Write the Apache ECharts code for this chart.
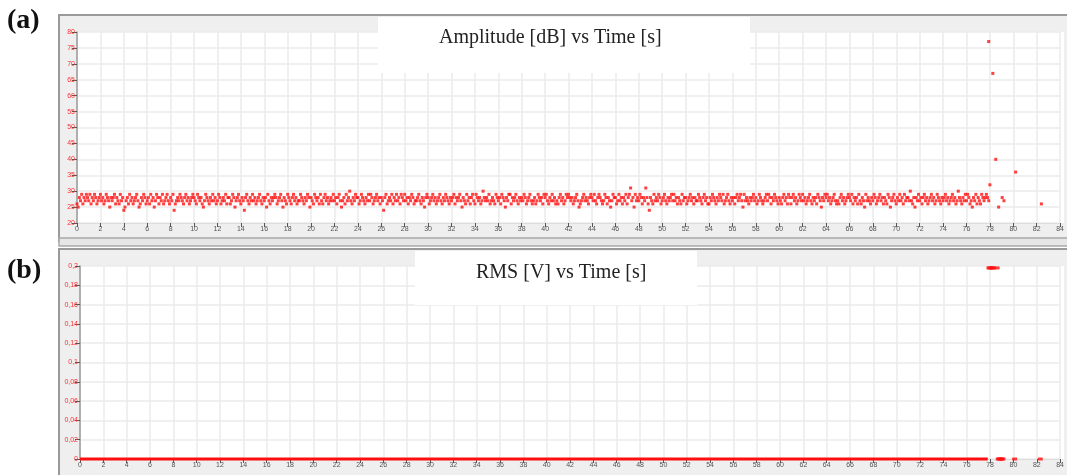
<!DOCTYPE html>
<html>
<head>
<meta charset="utf-8">
<script src="https://cdn.jsdelivr.net/npm/echarts@6/dist/echarts.min.js"></script>
<style>html,body{margin:0;padding:0;background:#fff;}#c{width:1067px;height:475px;}</style>
</head>
<body>
<div id="c"></div>
<script>
// ---- data ----
const ampStart = 0;          // s, first sample time
const ampStep = 0.1;         // s, sampling interval of the dense stream
const ampValues = [
26,25,28,27,29,26,28,27,29,28, 27,29,26,28,27,29,28,26,27,28,
29,27,28,26,27,29,28,27,25,28, 27,28,29,26,28,27,26,29,27,28,
24,25,27,28,26,29,27,28,26,27, 28,29,27,25,26,28,27,29,28,26,
27,28,26,29,27,28,25,27,29,28, 26,28,27,29,26,27,28,29,27,26,
28,27,29,24,26,27,28,27,29,28, 27,26,28,29,27,28,26,27,28,29,
28,27,26,29,28,27,28,26,25,27, 29,28,27,26,28,27,29,27,28,26,
27,29,28,26,27,28,27,29,26,28, 28,26,27,29,28,25,27,28,29,27,
26,28,27,24,28,29,27,26,28,27, 29,27,28,26,27,28,29,27,26,28,
27,28,25,29,27,26,28,27,28,29, 28,26,27,28,29,27,25,28,27,26,
29,28,27,26,28,29,27,28,26,27, 27,29,28,27,26,28,27,29,28,25,
28,27,26,29,28,27,28,26,29,27, 26,28,29,27,28,26,27,28,27,29,
27,28,26,28,29,27,25,27,28,26, 29,27,28,30,27,26,28,27,29,28,
28,26,27,29,28,27,26,28,27,29, 27,29,28,26,27,28,29,27,28,26,
28,27,24,28,29,26,27,28,27,29, 26,28,27,29,27,28,26,29,28,27,
29,27,28,26,28,27,29,28,26,27, 27,28,29,27,26,28,27,25,28,29,
28,26,27,28,29,27,28,26,27,28, 29,27,26,28,27,29,28,27,26,28,
27,28,29,26,28,27,28,29,27,25, 28,27,26,29,27,28,26,28,29,27,
26,29,28,27,28,26,27,30,28,27, 28,27,29,26,27,28,27,26,29,28,
27,28,26,29,28,27,25,28,27,29, 29,26,28,27,28,29,27,26,28,27,
28,27,29,28,26,27,28,29,27,26, 27,28,26,27,29,28,27,28,26,29,
28,29,27,26,28,27,29,27,28,26, 27,26,28,29,27,28,26,27,29,28,
29,28,27,28,26,27,28,29,27,25, 26,27,28,29,27,28,27,26,28,29,
28,27,29,27,26,28,29,28,27,26, 27,29,28,26,28,27,25,27,29,28,
28,26,27,29,27,28,26,28,27,29, 26,28,29,31,27,28,25,29,27,28,
27,29,28,26,28,27,31,28,26,24, 28,27,26,29,27,28,27,29,28,26,
27,28,29,27,26,28,27,28,29,27, 29,27,28,26,28,27,26,29,27,28,
28,26,27,28,29,27,28,26,28,27, 27,29,28,27,26,28,29,27,28,26,
26,28,27,29,28,27,26,28,27,29, 28,27,29,26,27,28,29,27,26,28,
27,28,26,28,29,27,28,29,27,25, 29,27,28,27,26,28,27,28,29,27,
28,26,27,29,28,27,26,27,28,29, 27,29,28,26,28,27,29,28,27,26,
28,27,26,28,29,27,28,26,29,28, 26,28,29,27,28,26,27,29,28,27,
29,27,28,26,27,28,29,27,26,28, 27,28,26,29,28,27,25,28,27,29,
28,29,27,28,26,27,28,29,27,26, 27,26,28,29,27,28,26,27,28,29,
28,27,29,26,28,27,28,26,29,27, 26,28,27,25,29,27,28,27,26,28,
27,29,28,26,27,28,29,27,28,26, 28,27,26,29,28,25,27,28,29,27,
26,28,27,29,27,28,26,29,27,28, 28,27,30,27,26,28,25,28,27,29,
27,28,26,28,29,27,28,26,27,28, 29,27,28,26,27,29,28,27,26,28,
27,28,29,27,28,26,27,28,29,27, 28,26,27,30,28,27,26,28,27,29,
27,29,28,26,27,25,28,27,29,26, 28,27,26,29,28,27,28,29,28,27
];
// isolated amplitude hits after the stream (event burst)
const ampTailTime  = [77.9, 78.0, 78.25, 78.5, 78.75, 79.05, 79.2, 80.2, 82.4];
const ampTailValue = [77,   32,   67,    40,   25,    28,    27,   36,   26];

// RMS: flat zero baseline, then saturated burst
const rmsBaseTime  = [0, 77.8];
const rmsBaseValue = [0, 0];
const rmsHitTime   = [77.9, 78.0, 78.1, 78.2, 78.3, 78.6, 78.7, 78.8, 78.9, 79.0, 79.1, 80.1, 82.3];
const rmsHitValue  = [0.198,0.198,0.198,0.198,0.198,0.198, 0, 0, 0, 0, 0, 0, 0];

const xTickLabelsMax = 84;

// ---- build ----
const ampData = ampValues.map((v, i) => [+(ampStart + i * ampStep).toFixed(2), v])
  .concat(ampTailTime.map((t, i) => [t, ampTailValue[i]]));
const rmsBase = rmsBaseTime.map((t, i) => [t, rmsBaseValue[i]]);
const rmsHits = rmsHitTime.map((t, i) => [t, rmsHitValue[i]]);

const chart = echarts.init(document.getElementById('c'), null, {renderer: 'canvas'});
const gridCol = '#ebebeb';
const xAxisCommon = {
  type: 'value', min: 0, max: xTickLabelsMax, interval: 2,
  axisLine: {show: true, lineStyle: {color: '#dddddd', width: 1}},
  axisTick: {show: true, length: 4, lineStyle: {color: '#555', width: 1}},
  axisLabel: {fontSize: 7, color: '#555', margin: 3, fontFamily: 'Liberation Sans'},
  splitLine: {show: true, lineStyle: {color: gridCol, width: 1.5}}
};
const yAxisCommon = {
  type: 'value',
  axisLine: {show: true, lineStyle: {color: '#9a9a9a', width: 1.5}},
  axisTick: {show: true, length: 5, lineStyle: {color: '#555', width: 1}},
  axisLabel: {fontSize: 7, color: '#ff3030', margin: 2, fontFamily: 'Liberation Sans'},
  splitLine: {show: true, lineStyle: {color: gridCol, width: 1.5}}
};

chart.setOption({
  animation: false,
  backgroundColor: '#ffffff',
  grid: [
    {left: 77, top: 32, width: 987, height: 191, show: false},
    {left: 80, top: 266, width: 984, height: 193, show: false}
  ],
  xAxis: [
    Object.assign({gridIndex: 0}, xAxisCommon),
    Object.assign({gridIndex: 1}, xAxisCommon)
  ],
  yAxis: [
    Object.assign({gridIndex: 0, min: 20, max: 80, interval: 5}, yAxisCommon),
    Object.assign({gridIndex: 1, min: 0, max: 0.2, interval: 0.02}, yAxisCommon, {
      axisLabel: Object.assign({}, yAxisCommon.axisLabel, {
        formatter: v => v === 0 ? '0' : String(Math.round(v * 100) / 100).replace('.', ',')
      })
    })
  ],
  graphic: [
    // panel (a) frame
    {type: 'rect', z: -10, shape: {x: 59, y: 15, width: 1010, height: 226}, style: {fill: '#efefef', stroke: '#9a9a9a', lineWidth: 2}},
    {type: 'rect', z: -9, shape: {x: 59, y: 238, width: 1010, height: 8}, style: {fill: '#e6e6e6', stroke: '#a8a8a8', lineWidth: 1.5}},
    {type: 'rect', z: -8, shape: {x: 77, y: 32, width: 987, height: 191}, style: {fill: '#ffffff'}},
    // panel (b) frame
    {type: 'rect', z: -10, shape: {x: 59, y: 249, width: 1010, height: 230}, style: {fill: '#efefef', stroke: '#9a9a9a', lineWidth: 2}},
    {type: 'rect', z: -8, shape: {x: 80, y: 266, width: 984, height: 193}, style: {fill: '#ffffff'}},
    // title boxes
    {type: 'rect', z: 50, shape: {x: 378, y: 17, width: 372, height: 56}, style: {fill: '#ffffff'}},
    {type: 'text', z: 51, left: 439, top: 28, style: {text: 'Amplitude [dB] vs Time [s]', font: '20px "Liberation Serif"', fill: '#222'}},
    {type: 'rect', z: 50, shape: {x: 415, y: 251, width: 282, height: 54}, style: {fill: '#ffffff'}},
    {type: 'text', z: 51, left: 476, top: 263, style: {text: 'RMS [V] vs Time [s]', font: '20px "Liberation Serif"', fill: '#222'}},
    // panel letters
    {type: 'text', z: 51, left: 7, top: 7, style: {text: '(a)', font: 'bold 28px "Liberation Serif"', fill: '#111'}},
    {type: 'text', z: 51, left: 7, top: 257, style: {text: '(b)', font: 'bold 28px "Liberation Serif"', fill: '#111'}}
  ],
  series: [
    {type: 'scatter', xAxisIndex: 0, yAxisIndex: 0, data: ampData, symbol: 'rect', symbolSize: 3,
     itemStyle: {color: '#ff1010'}, z: 5},
    {type: 'line', xAxisIndex: 1, yAxisIndex: 1, data: rmsBase, symbol: 'none', clip: false,
     lineStyle: {color: '#ff1010', width: 3}, z: 5},
    {type: 'scatter', xAxisIndex: 1, yAxisIndex: 1, data: rmsHits, symbol: 'rect', symbolSize: [5, 3], clip: false,
     itemStyle: {color: '#ff1010'}, z: 5}
  ]
});
</script>
</body>
</html>
